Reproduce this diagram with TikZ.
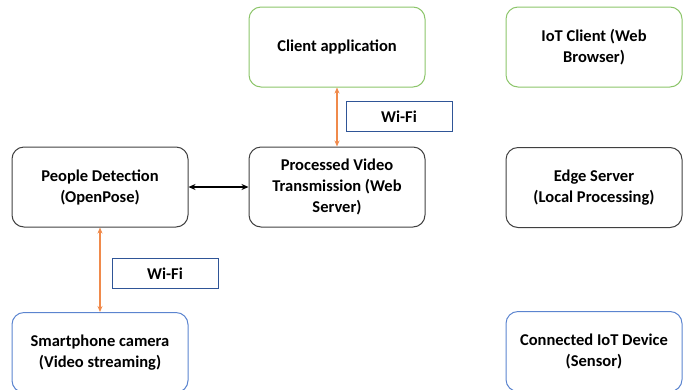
\documentclass[tikz,border=0pt]{standalone}
\usepackage{fontspec}
\setmainfont{Carlito}
\usetikzlibrary{arrows.meta}
\definecolor{cgreen}{HTML}{8CC56A}
\definecolor{cblue}{HTML}{5B84CF}
\definecolor{cgray}{HTML}{404040}
\definecolor{corange}{HTML}{F08A4B}
\definecolor{cwifi}{HTML}{2F5597}
\tikzset{
  box/.style={draw, rounded corners=12pt, line width=1pt, minimum width=176pt, minimum height=80pt, align=center, font=\fontsize{16.5}{21}\selectfont\bfseries, inner sep=0pt},
  gbox/.style={box, draw=cgreen},
  kbox/.style={box, draw=cgray},
  bbox/.style={box, draw=cblue},
  wifi/.style={draw=cwifi, line width=0.9pt, minimum width=106pt, minimum height=30pt, font=\fontsize{16.5}{21}\selectfont\bfseries, inner sep=0pt},
  oarr/.style={draw=corange, line width=1.4pt, {Stealth[length=6pt,width=5pt]}-{Stealth[length=6pt,width=5pt]}},
  karr/.style={draw=black, line width=1.4pt, {Stealth[length=7pt,width=6pt]}-{Stealth[length=7pt,width=6pt]}}
}
\begin{document}
\begin{tikzpicture}[x=1pt,y=-1pt]
\useasboundingbox (0,0) rectangle (692,389);
\clip (0,0) rectangle (692,389);
\node[gbox] (client) at (337,47) {Client application};
\node[gbox] (iotc) at (594,47) {IoT Client (Web\\Browser)};
\node[kbox] (people) at (100,187) {People Detection\\(OpenPose)};
\node[kbox] (proc) at (337,187) {Processed Video\\Transmission (Web\\Server)};
\node[kbox] (edge) at (594,187.5) {Edge Server\\(Local Processing)};
\node[bbox] (phone) at (100,352.5) {Smartphone camera\\(Video streaming)};
\node[bbox] (iotd) at (594,351.5) {Connected IoT Device\\(Sensor)};
\node[wifi] (w1) at (399,116.5) {Wi-Fi};
\node[wifi] (w2) at (165,273.5) {Wi-Fi};
\draw[oarr] (client.south) -- (proc.north);
\draw[oarr] (people.south) -- (people.south |- phone.north);
\draw[karr] (people.east) -- (proc.west);
\end{tikzpicture}
\end{document}
